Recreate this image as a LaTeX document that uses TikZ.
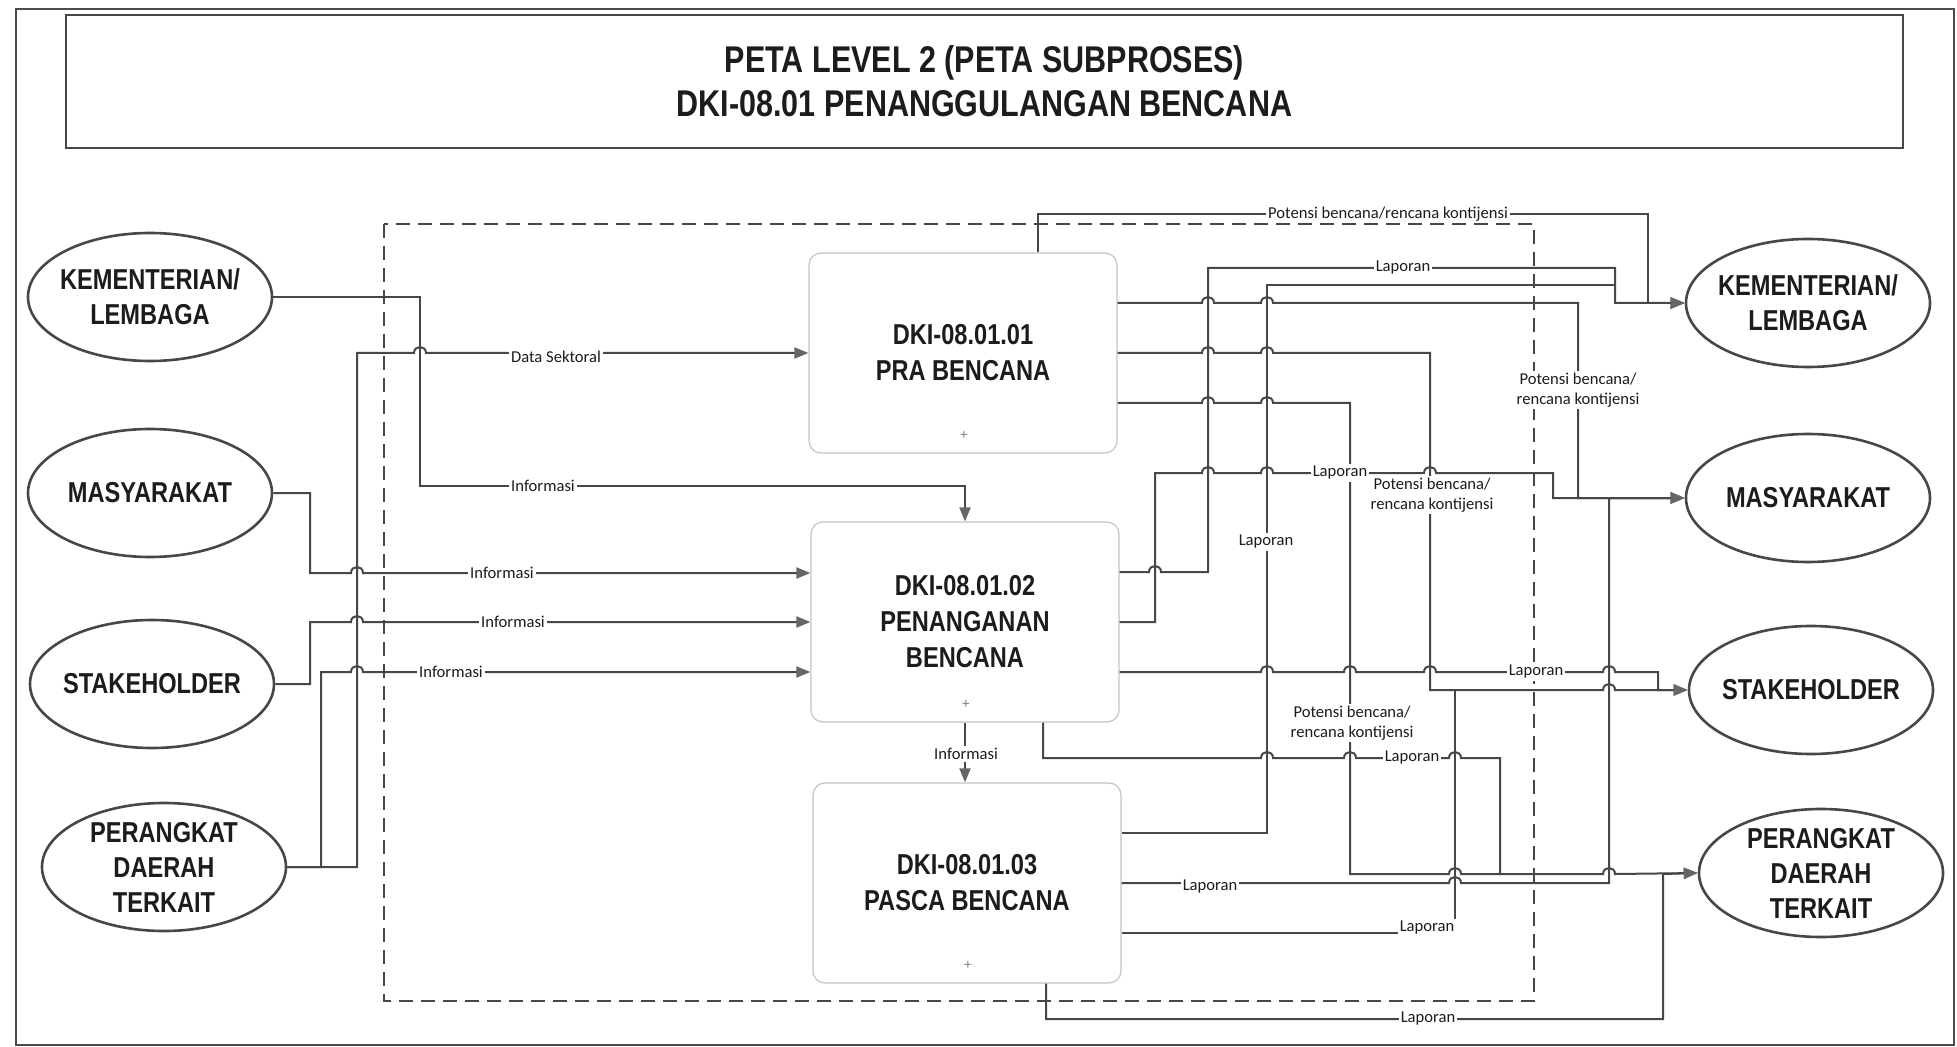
\documentclass[tikz,border=0pt]{standalone}
\usepackage{fontspec}
\setmainfont{Liberation Sans}
\newfontfamily\narrow[FakeStretch=0.82]{Liberation Sans}
\newfontfamily\lbl{Carlito}
\usetikzlibrary{arrows.meta,shapes.geometric}
\definecolor{lc}{HTML}{474747}
\definecolor{ac}{HTML}{666666}
\definecolor{tc}{HTML}{1C1C1C}
\definecolor{bc}{HTML}{C4C4C4}
\newcommand{\hops}[2]{\foreach \h in {#2} { -- ({\h-6},#1) .. controls ({\h-6},{#1-8}) and ({\h+6},{#1-8}) .. ({\h+6},#1) }}
\begin{document}
\begin{tikzpicture}[x=0.5pt,y=-0.5pt,
  conn/.style={draw=lc, line width=1pt, line join=miter},
  arr/.style={-{Triangle[length=7pt,width=5.5pt,color=ac]}},
  ent/.style={ellipse, draw=lc, line width=1.3pt, minimum width=122pt, minimum height=64pt, inner sep=0pt},
  enttext/.style={font=\narrow\bfseries\fontsize{14.4}{17.5}\selectfont, align=center, text=tc, inner sep=0pt},
  proc/.style={rectangle, rounded corners=6pt, draw=bc, line width=0.6pt, minimum width=154pt, minimum height=100pt, fill=white, font=\narrow\bfseries\fontsize{14.4}{18}\selectfont, align=center, text=tc},
  lab/.style={font=\lbl\fontsize{8.3}{10}\selectfont, fill=white, inner sep=1pt, text=tc, align=center},
  plusmark/.style={font=\fontsize{7}{7}\selectfont, text=gray, inner sep=0pt}
]
\useasboundingbox (0,0) rectangle (1957,1047);
\fill[white] (0,0) rectangle (1957,1047);
% outer frame
\draw[gray!60!black, line width=1.2pt] (16,9) rectangle (1954,1045);
% title
\node[draw=lc, line width=1.1pt, minimum width=918.5pt, minimum height=66.5pt, inner sep=0pt,
      font=\narrow\bfseries\fontsize{18.6}{22}\selectfont, align=center, text=tc] (title) at (984.5,81.5)
      {PETA LEVEL 2 (PETA SUBPROSES)\\DKI-08.01 PENANGGULANGAN BENCANA};
% dashed boundary
\draw[lc, line width=0.9pt, dash pattern=on 7pt off 4pt] (384,224) rectangle (1534,1001);
% left entities
\node[ent] (kl) at (150,297) {};
\node[enttext] (klt) at (kl) {KEMENTERIAN/\\LEMBAGA};
\node[ent] (ml) at (150,493) {};
\node[enttext] (mlt) at (ml) {MASYARAKAT};
\node[ent] (sl) at (152,684) {};
\node[enttext] (slt) at (sl) {STAKEHOLDER};
\node[ent] (pl) at (164,867) {};
\node[enttext] (plt) at (pl) {PERANGKAT\\DAERAH\\TERKAIT};
% right entities
\node[ent] (kr) at (1808,303) {};
\node[enttext] (krt) at (kr) {KEMENTERIAN/\\LEMBAGA};
\node[ent] (mr) at (1808,498) {};
\node[enttext] (mrt) at (mr) {MASYARAKAT};
\node[ent] (sr) at (1811,690) {};
\node[enttext] (srt) at (sr) {STAKEHOLDER};
\node[ent] (pr) at (1821,873) {};
\node[enttext] (prt) at (pr) {PERANGKAT\\DAERAH\\TERKAIT};
% processes
\node[proc] (b1) at (963,353) {DKI-08.01.01\\PRA BENCANA};
\node[proc] (b2) at (965,622) {DKI-08.01.02\\PENANGANAN\\BENCANA};
\node[proc] (b3) at (967,883) {DKI-08.01.03\\PASCA BENCANA};
\node[plusmark] (p1) at (964,435) {+};
\node[plusmark] (p2) at (966,704) {+};
\node[plusmark] (p3) at (968,965) {+};
% left connectors
\draw[conn,arr] (kl.east) -- (420,297) -- (420,486) -- (b2.north |- 0,486) -- (b2.north);
\draw[conn,arr] (pl.east) -- (357,867) -- (357,353) \hops{353}{420} -- (b1.west);
\draw[conn,arr] (pl.east) -- (321,867) -- (321,672) \hops{672}{357} -- (b2.west |- 0,672);
\draw[conn,arr] (ml.east) -- (310,493) -- (310,573) \hops{573}{357} -- (b2.west |- 0,573);
\draw[conn,arr] (sl.east) -- (310,684) -- (310,622) \hops{622}{357} -- (b2.west |- 0,622);
\draw[conn,arr] (b2.south) -- (b2.south |- b3.north);
% right connectors
\draw[conn,arr] (b2.east |- 0,572) \hops{572}{1155} -- (1208,572) -- (1208,268) -- (1615,268) -- (1615,303) -- (kr.west);
\draw[conn,arr] (1038,0 |- b1.north) -- (1038,214) -- (1648,214) -- (1648,303) -- (kr.west);
\draw[conn,arr] (b3.east |- 0,833) -- (1267,833) -- (1267,285) -- (1615,285) -- (1615,303) -- (kr.west);
\draw[conn,arr] (b1.east |- 0,303) \hops{303}{1208,1267} -- (1578,303) -- (1578,498) -- (mr.west);
\draw[conn,arr] (b1.east |- 0,353) \hops{353}{1208,1267} -- (1430,353) -- (1430,690) \hops{690}{1609} -- (sr.west);
\draw[conn,arr] (b1.east |- 0,403) \hops{403}{1208,1267} -- (1350,403) -- (1350,874) \hops{874}{1455,1609} -- (pr.west);
\draw[conn,arr] (b2.east |- 0,622) -- (1155,622) -- (1155,473) \hops{473}{1208,1267,1430} -- (1553,473) -- (1553,498) -- (mr.west);
\draw[conn,arr] (b2.east |- 0,672) \hops{672}{1267,1350,1430,1609} -- (1658,672) -- (1658,690) -- (sr.west);
\draw[conn] (1043,0 |- b2.south) -- (1043,758) \hops{758}{1267,1350,1455} -- (1500,758) -- (1500,874);
\draw[conn,arr] (b3.east |- 0,883) \hops{883}{1455} -- (1609,883) -- (1609,498) -- (mr.west);
\draw[conn] (b3.east |- 0,933) -- (1455,933) -- (1455,690);
\draw[conn,arr] (1046,0 |- b3.south) -- (1046,1019) -- (1663,1019) -- (1663,874) -- (pr.west);
% labels
\node[lab] (t1) at (543,486) {Informasi};
\node[lab] (t2) at (556,357) {Data Sektoral};
\node[lab] (t3) at (451,672) {Informasi};
\node[lab] (t4) at (502,573) {Informasi};
\node[lab] (t5) at (513,622) {Informasi};
\node[lab] (t6) at (966,754) {Informasi};
\node[lab] (t7) at (1403,268) {Laporan};
\node[lab] (t8) at (1388,214) {Potensi bencana/rencana kontijensi};
\node[lab] (t9) at (1266,542) {Laporan};
\node[lab] (t10) at (1578,390) {Potensi bencana/\\rencana kontijensi};
\node[lab] (t11) at (1432,495) {Potensi bencana/\\rencana kontijensi};
\node[lab] (t12) at (1352,723) {Potensi bencana/\\rencana kontijensi};
\node[lab] (t13) at (1340,473) {Laporan};
\node[lab] (t14) at (1536,672) {Laporan};
\node[lab] (t15) at (1412,758) {Laporan};
\node[lab] (t16) at (1210,887) {Laporan};
\node[lab] (t17) at (1427,928) {Laporan};
\node[lab] (t18) at (1428,1019) {Laporan};
\end{tikzpicture}
\end{document}
